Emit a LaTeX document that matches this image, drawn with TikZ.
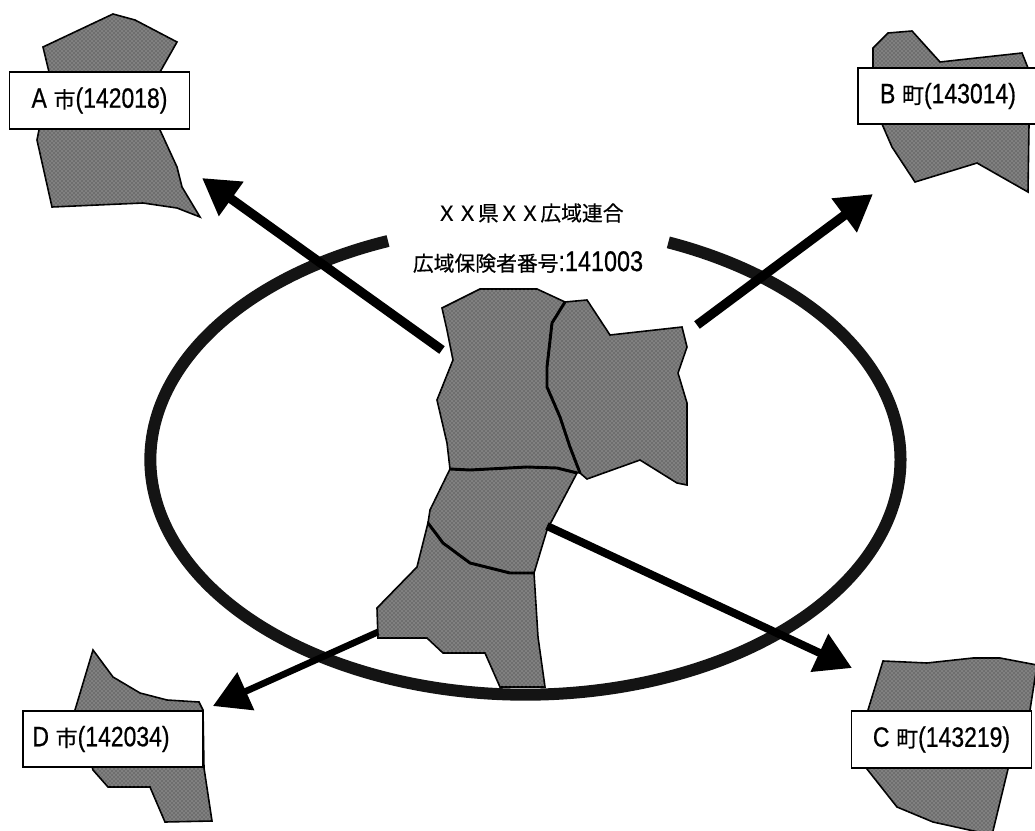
\documentclass[tikz,border=0pt]{standalone}
\usepackage{fontspec}
\usetikzlibrary{arrows.meta,patterns}
\newfontfamily\cjfont[FakeBold=0.5]{Noto Sans CJK JP}
\newfontfamily\narrowlat[FakeStretch=0.82,FakeBold=0.6]{Liberation Sans}
\newcommand{\muni}[3]{{\fontsize{21}{23}\narrowlat #1}\hspace{5pt}{\fontsize{16.5}{18}\cjfont #2}{\fontsize{21}{23}\narrowlat (#3)}}
\tikzset{
  region/.style={draw=black,line width=1.2pt,fill=black!50,postaction={pattern=crosshatch dots,pattern color=black!80}},
  border/.style={draw=black,line width=2.2pt,line join=round},
  labelbox/.style={draw=black,line width=1.4pt,fill=white,minimum width=135pt,minimum height=42.5pt,inner sep=0pt},
  flow/.style={line width=7pt,-{Triangle[length=27pt,width=30pt]}},
  ring/.style={line width=9pt,draw=black!92},
  caption/.style={inner sep=0pt}
}
\begin{document}
\begin{tikzpicture}[x=0.75pt,y=-0.75pt]
\useasboundingbox (0,0) rectangle (1035,831);
\clip (0,0) rectangle (1035,831);
% ring
\coordinate (ringstart) at (388,241);
\draw[ring] (ringstart) arc[start angle=111.5,end angle=427.6,x radius=281.25pt,y radius=176.25pt];
% outer maps
\path[region] (43,47)--(113,14)--(135,20)--(177,42)--(160,72)--(160,130)--(177,167)--(182,187)--(200,217)--(177,208)--(143,203)--(52,207)--(37,140)--(39,130)--(49,72)--cycle;
\path[region] (873,48)--(888,33)--(912,31)--(940,62)--(1022,53)--(1028,68)--(1029,124)--(1028,192)--(977,163)--(915,182)--(892,147)--(882,124)--(873,68)--cycle;
\path[region] (883,661)--(927,663)--(973,658)--(1000,658)--(1037,665)--(1030,710)--(1008,769)--(992,835)--(933,822)--(897,807)--(867,769)--(868,710)--cycle;
\path[region] (93,650)--(113,677)--(140,693)--(167,700)--(199,702)--(203,710)--(204,768)--(212,821)--(165,822)--(150,787)--(108,787)--(93,770)--(75,710)--cycle;
% central maps
\path[region] (428,523)--(417,567)--(377,608)--(378,638)--(427,638)--(443,653)--(485,653)--(500,687)--(545,687)--(538,637)--(534,573)--(510,573)--(470,563)--(443,543)--cycle;
\path[region] (450,469)--(470,470)--(527,467)--(557,468)--(577,473)--(547,530)--(534,573)--(510,573)--(470,563)--(443,543)--(428,523)--(430,510)--cycle;
\path[region] (442,308)--(480,289)--(537,289)--(565,302)--(552,323)--(547,367)--(547,387)--(560,417)--(570,447)--(580,473)--(557,468)--(527,467)--(470,470)--(450,469)--(447,443)--(437,400)--(453,360)--(447,330)--cycle;
\path[region] (565,302)--(587,300)--(610,335)--(682,327)--(687,347)--(678,373)--(687,403)--(687,485)--(677,483)--(640,460)--(587,479)--(580,473)--(570,447)--(560,417)--(547,387)--(547,367)--(552,323)--cycle;
\draw[border] (565,302)--(552,323)--(547,367)--(547,387)--(560,417)--(570,447)--(580,473);
\draw[border] (450,469)--(470,470)--(527,467)--(557,468)--(577,473);
\draw[border] (428,523)--(443,543)--(470,563)--(510,573)--(534,573);
% flow ends
\coordinate (fromA) at (442,350);
\coordinate (toA) at (202,178);
\coordinate (fromB) at (697,325);
\coordinate (toB) at (873,194);
\coordinate (fromC) at (547,526);
\coordinate (toC) at (852,668);
\coordinate (fromD) at (378,632);
\coordinate (toD) at (213,706);
\draw[flow] (fromA)--(toA);
\draw[flow] (fromB)--(toB);
\draw[flow,line width=6pt] (fromC)--(toC);
\draw[flow,line width=5pt] (fromD)--(toD);
% labels
\node[labelbox] (cityA) at (99.5,100.5) {\muni{A}{市}{142018}};
\node[labelbox] (townB) at (948,96) {\muni{B}{町}{143014}};
\node[labelbox] (townC) at (941.5,739.5) {\muni{C}{町}{143219}};
\node[labelbox] (cityD) at (113,739) {\muni{D}{市}{142034}\hspace*{18pt}};
\node[caption] (union) at (530,213) {\fontsize{15.6}{18}\cjfont ＸＸ県ＸＸ広域連合};
\node[caption] (insurer) at (528,262) {{\fontsize{15.6}{18}\cjfont 広域保険者番号}{\fontsize{21.4}{23}\narrowlat :141003}};
\end{tikzpicture}
\end{document}
